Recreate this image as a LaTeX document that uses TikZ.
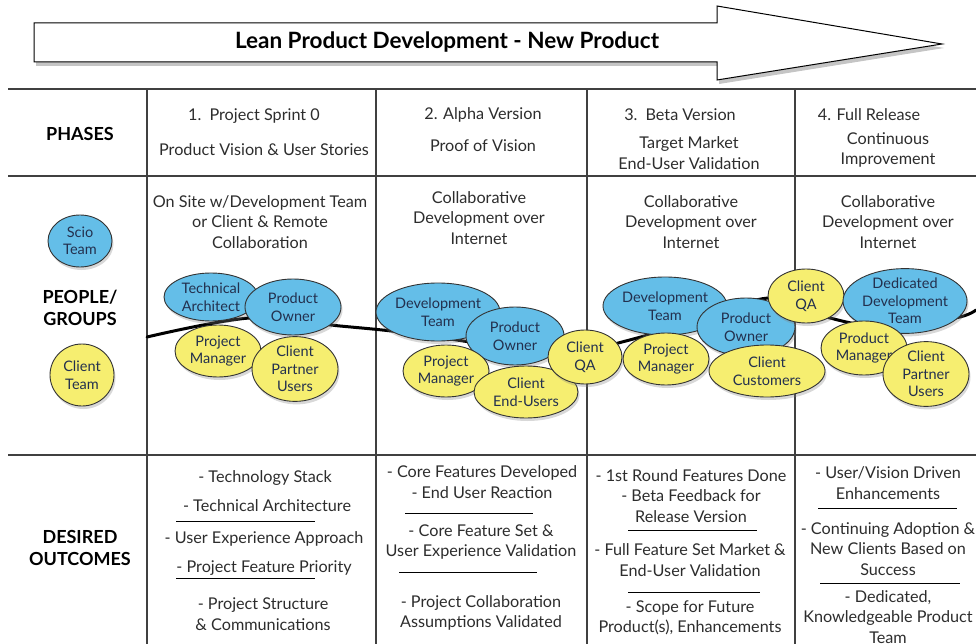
\documentclass[tikz,border=0pt]{standalone}
\usepackage{fontspec}
\setmainfont{Lato}
\usetikzlibrary{shapes.geometric, shadows}

\definecolor{sciob}{RGB}{100,190,232}
\definecolor{clienty}{RGB}{246,238,112}
\definecolor{inkg}{RGB}{45,45,45}
\definecolor{inkb}{RGB}{35,48,78}

\tikzset{
  gridline/.style={draw=black!75, line width=1.1pt},
  txt/.style={text=inkg, align=center, font=\fontsize{16.2}{20.5}\selectfont},
  hdr/.style={text=black, align=center, font=\bfseries\fontsize{18}{21.5}\selectfont},
  grp/.style={ellipse, draw=black!80, line width=0.9pt, inner sep=0pt, align=center,
    text=inkb, font=\fontsize{14.5}{17.5}\selectfont,
    drop shadow={opacity=0.3, shadow xshift=1.5pt, shadow yshift=-3pt}},
  scio/.style={grp, fill=sciob},
  client/.style={grp, fill=clienty},
  sep/.style={draw=black, line width=0.8pt},
}

\begin{document}
\begin{tikzpicture}[x=1pt, y=-1pt]
  \useasboundingbox[fill=white] (0,0) rectangle (976,644);

  % title arrow
  \draw[fill=white, line width=1pt, drop shadow={opacity=0.45, shadow xshift=2pt, shadow yshift=-4pt}]
    (34,23) -- (717,23) -- (717,6) -- (942,44) -- (717,80) -- (717,62) -- (34,62) -- cycle;
  \node[text=black, font=\bfseries\fontsize{22.5}{24}\selectfont] (title) at (447,42) {Lean Product Development - New Product};

  % table
  \foreach \yy in {89,176,455} \draw[gridline] (8,\yy) -- (976,\yy);
  \foreach \xx in {147,376,587,795} \draw[gridline] (\xx,89) -- (\xx,644);

  % phases
  \node[hdr] (phases) at (80,134) {PHASES};
  \node[txt] (ph1a) at (254,116) {1.\enspace Project Sprint 0};
  \node[txt] (ph1b) at (264,150) {Product Vision \& User Stories};
  \node[txt] (ph2a) at (483,115) {2. Alpha Version};
  \node[txt] (ph2b) at (483,146) {Proof of Vision};
  \node[txt] (ph3a) at (680,115) {3.\enspace Beta Version};
  \node[txt] (ph3b) at (689,153) {Target Market\\End-User Validation};
  \node[txt] (ph4a) at (869,115) {4. Full Release};
  \node[txt] (ph4b) at (888,150) {Continuous\\Improvement};

  % people / groups
  \node[hdr] (people) at (80,308) {PEOPLE/\\GROUPS};
  \node[scio, minimum width=64, minimum height=52] (scio) at (80,241) {Scio\\Team};
  \node[client, minimum width=64, minimum height=62] (clientteam) at (82,375) {Client\\Team};

  \node[txt] (pp1) at (260,222) {On Site w/Development Team\\or Client \& Remote\\Collaboration};
  \node[txt] (pp2) at (479,218) {Collaborative\\Development over\\Internet};
  \node[txt] (pp3) at (691,222) {Collaborative\\Development over\\Internet};
  \node[txt] (pp4) at (888,222) {Collaborative\\Development over\\Internet};

  % timeline behind the groups
  \draw[line width=3pt, line cap=round] plot[smooth, tension=0.55] coordinates
    {(147,337) (250,318) (340,326) (400,332) (470,342) (560,356) (622,342)
     (700,320) (770,298) (830,318) (880,326) (955,318) (976,310)};

  % sprint 0
  \node[scio, minimum width=94, minimum height=48] (tecarch1) at (211,297) {Technical\\Architect};
  \node[scio, minimum width=96, minimum height=56] (prodown1) at (293,307) {Product\\Owner};
  \node[client, minimum width=86, minimum height=52] (projman1) at (218,351) {Project\\Manager};
  \node[client, minimum width=86, minimum height=64] (partner1) at (295,369) {Client\\Partner\\Users};

  % alpha
  \node[scio, minimum width=124, minimum height=58] (devteam2) at (438,312) {Development\\Team};
  \node[scio, minimum width=98, minimum height=58] (prodown2) at (515,336) {Product\\Owner};
  \node[client, minimum width=86, minimum height=52] (projman2) at (446,371) {Project\\Manager};
  \node[client, minimum width=104, minimum height=52] (endusers2) at (526,392) {Client\\End-Users};
  \node[client, minimum width=74, minimum height=54] (qa2) at (585,357) {Client\\QA};

  % beta
  \node[scio, minimum width=124, minimum height=58] (devteam3) at (665,306) {Development\\Team};
  \node[client, minimum width=86, minimum height=52] (projman3) at (666,359) {Project\\Manager};
  \node[scio, minimum width=98, minimum height=58] (prodown3) at (746,327) {Product\\Owner};
  \node[client, minimum width=116, minimum height=52] (customers3) at (767,371) {Client\\Customers};
  \node[client, minimum width=76, minimum height=54] (qa4) at (806,296) {Client\\QA};

  % full release
  \node[scio, minimum width=124, minimum height=64] (dedteam4) at (905,301) {Dedicated\\Development\\Team};
  \node[client, minimum width=86, minimum height=54] (prodman4) at (864,348) {Product\\Manager};
  \node[client, minimum width=86, minimum height=64] (partner4) at (926,374) {Client\\Partner\\Users};

  % desired outcomes
  \node[hdr] (outcomes) at (80,548) {DESIRED\\OUTCOMES};

  \node[txt] (oc1a) at (265,478) {- Technology Stack};
  \node[txt] (oc1b) at (267,506) {- Technical Architecture};
  \draw[sep] (176,521) -- (315,521);
  \node[txt] (oc1c) at (264,539) {- User Experience Approach};
  \node[txt] (oc1d) at (264,568) {- Project Feature Priority};
  \draw[sep] (176,578) -- (315,578);
  \node[txt] (oc1e) at (263,614) {- Project Structure\\\& Communications};

  \node[txt] (oc2a) at (482,482) {- Core Features Developed\\- End User Reaction};
  \draw[sep] (405,513) -- (533,513);
  \node[txt] (oc2b) at (481,542) {- Core Feature Set \&\\User Experience Validation};
  \draw[sep] (399,572) -- (537,572);
  \node[txt] (oc2c) at (481,613) {- Project Collaboration\\Assumptions Validated};

  \node[txt] (oc3a) at (691,496) {- 1st Round Features Done\\- Beta Feedback for\\Release Version};
  \draw[sep] (628,530) -- (757,530);
  \node[txt] (oc3b) at (690,560) {- Full Feature Set Market \&\\End-User Validation};
  \draw[sep] (628,592) -- (760,592);
  \node[txt] (oc3c) at (690,618) {- Scope for Future\\Product(s), Enhancements};

  \node[txt] (oc4a) at (888,483) {- User/Vision Driven\\Enhancements};
  \draw[sep] (818,508) -- (957,508);
  \node[txt] (oc4b) at (888,549) {- Continuing Adoption \&\\New Clients Based on\\Success};
  \draw[sep] (820,583) -- (960,583);
  \node[txt] (oc4c) at (888,617) {- Dedicated,\\Knowledgeable Product\\Team};
\end{tikzpicture}
\end{document}
